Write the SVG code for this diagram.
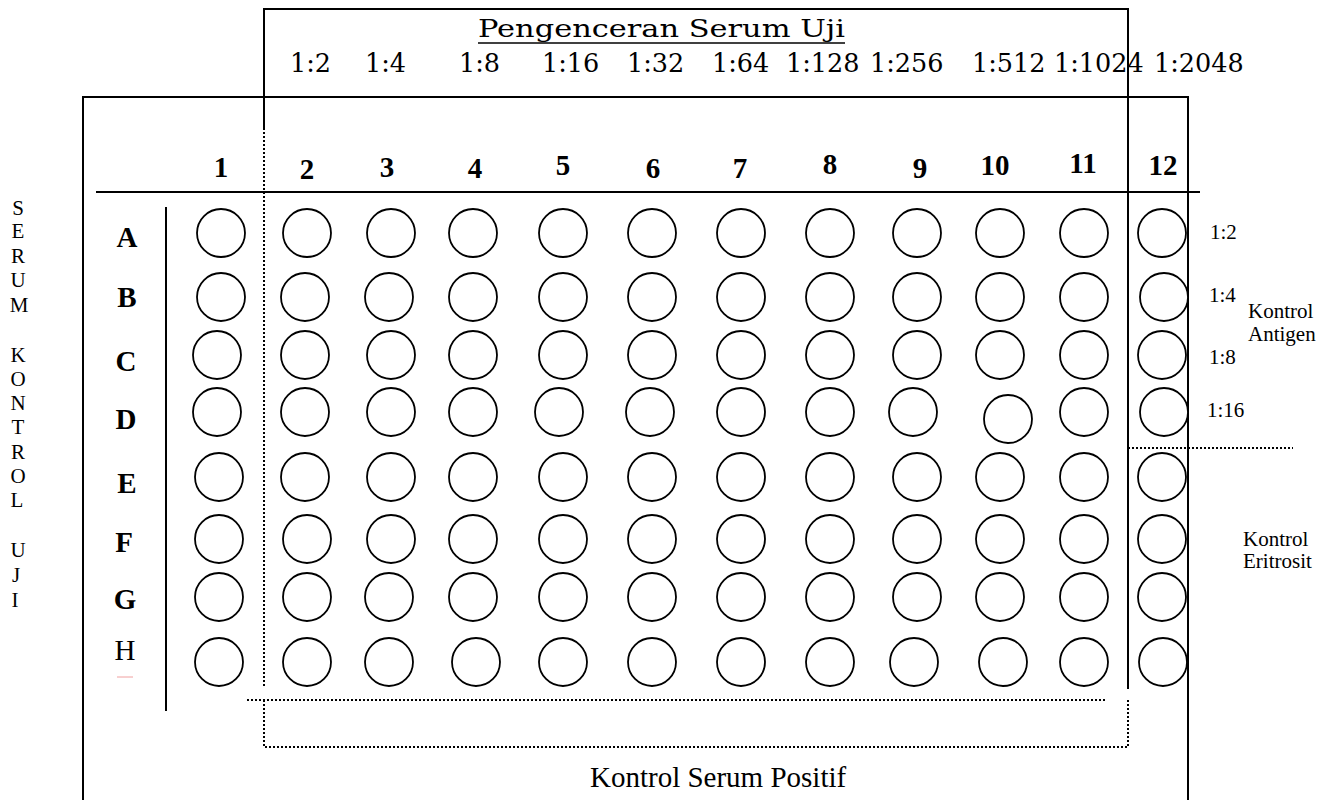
<svg xmlns="http://www.w3.org/2000/svg" width="1333" height="800" viewBox="0 0 1333 800">
<style>
.ln{stroke:#000;stroke-width:2;fill:none}
.dt{stroke:#000;stroke-width:2;fill:none;stroke-dasharray:2 2}
.well{stroke:#000;stroke-width:1.8;fill:#fff}
.hd{font-family:"DejaVu Serif",serif;font-size:25.5px;fill:#000}
.ttl{font-family:"DejaVu Serif",serif;font-size:25px;fill:#000}
.num{font-family:"Liberation Serif","Times New Roman",serif;font-size:29px;font-weight:bold;fill:#000;text-anchor:middle}
.row{font-family:"Liberation Serif","Times New Roman",serif;font-size:29px;font-weight:bold;fill:#000;text-anchor:middle}
.rowr{font-family:"Liberation Serif","Times New Roman",serif;font-size:29px;font-weight:normal;fill:#000;text-anchor:middle}
.side{font-family:"Liberation Serif","Times New Roman",serif;font-size:21px;fill:#000;text-anchor:middle}
.lbl{font-family:"Liberation Serif","Times New Roman",serif;font-size:21px;fill:#000}
.big{font-family:"Liberation Serif","Times New Roman",serif;font-size:29px;fill:#000}
</style>
<rect width="1333" height="800" fill="#fff"/>

<g id="frame">
  <path class="ln" d="M264 128 V9 H1128 V689"/>
  <path class="ln" d="M83 800 V97 H1188 V800"/>
  <line class="ln" x1="96" y1="192" x2="1200" y2="192"/>
  <line class="ln" x1="166" y1="207" x2="166" y2="711"/>
  <line class="dt" x1="264" y1="128" x2="264" y2="688"/>
  <line class="dt" x1="247" y1="700" x2="1107" y2="700"/>
  <path class="dt" d="M264 700 V747 H1128 V700"/>
  <line class="dt" x1="1128" y1="448" x2="1293" y2="448"/>
  <line x1="117" y1="677" x2="133" y2="677" stroke="#f0a0a0" stroke-width="1"/>
</g>

<g id="title">
  <text class="ttl" x="478" y="37" textLength="367" lengthAdjust="spacingAndGlyphs">Pengenceran Serum Uji</text>
  <line x1="478" y1="43" x2="845" y2="43" stroke="#000" stroke-width="1.5"/>
</g>

<g id="dilutions">
  <text class="hd" x="290" y="72">1:2</text>
  <text class="hd" x="365" y="72">1:4</text>
  <text class="hd" x="459" y="72">1:8</text>
  <text class="hd" x="542" y="72">1:16</text>
  <text class="hd" x="627" y="72">1:32</text>
  <text class="hd" x="712" y="72">1:64</text>
  <text class="hd" x="786" y="72">1:128</text>
  <text class="hd" x="870" y="72">1:256</text>
  <text class="hd" x="972" y="72">1:512</text>
  <text class="hd" x="1054" y="72">1:1024</text>
  <text class="hd" x="1154" y="72">1:2048</text>
</g>

<g id="columns">
  <text class="num" x="221" y="177">1</text>
  <text class="num" x="307" y="179">2</text>
  <text class="num" x="387" y="177">3</text>
  <text class="num" x="475" y="178">4</text>
  <text class="num" x="563" y="175">5</text>
  <text class="num" x="653" y="178">6</text>
  <text class="num" x="740" y="178">7</text>
  <text class="num" x="830" y="174">8</text>
  <text class="num" x="920" y="178">9</text>
  <text class="num" x="995" y="175">10</text>
  <text class="num" x="1083" y="173">11</text>
  <text class="num" x="1163" y="175">12</text>
</g>

<g id="rows">
  <text class="row" x="127" y="247">A</text>
  <text class="row" x="127" y="307">B</text>
  <text class="row" x="126" y="371">C</text>
  <text class="row" x="126" y="429">D</text>
  <text class="row" x="127" y="493">E</text>
  <text class="row" x="124" y="552">F</text>
  <text class="row" x="125" y="609">G</text>
  <text class="rowr" x="125" y="660">H</text>
</g>

<g id="side-label">
  <text class="side" x="18" y="215">S</text>
  <text class="side" x="18" y="238">E</text>
  <text class="side" x="18" y="263">R</text>
  <text class="side" x="18" y="287">U</text>
  <text class="side" x="19" y="312">M</text>
  <text class="side" x="18" y="362">K</text>
  <text class="side" x="18" y="386">O</text>
  <text class="side" x="18" y="410">N</text>
  <text class="side" x="18" y="434">T</text>
  <text class="side" x="18" y="459">R</text>
  <text class="side" x="18" y="483">O</text>
  <text class="side" x="17" y="507">L</text>
  <text class="side" x="18" y="557">U</text>
  <text class="side" x="16" y="582">J</text>
  <text class="side" x="15" y="607">I</text>
</g>

<g id="right-labels">
  <text class="lbl" x="1210" y="239">1:2</text>
  <text class="lbl" x="1209" y="302">1:4</text>
  <text class="lbl" x="1209" y="364">1:8</text>
  <text class="lbl" x="1207" y="417">1:16</text>
  <text class="lbl" x="1248" y="318">Kontrol</text>
  <text class="lbl" x="1248" y="341">Antigen</text>
  <text class="lbl" x="1243" y="546">Kontrol</text>
  <text class="lbl" x="1243" y="568">Eritrosit</text>
</g>

<g id="bottom-label">
  <text class="big" x="590" y="787">Kontrol Serum Positif</text>
</g>

<g id="wells">
  <g id="row-A">
    <circle class="well" cx="221" cy="233" r="24"/><circle class="well" cx="307" cy="233" r="24"/><circle class="well" cx="391" cy="233" r="24"/><circle class="well" cx="473" cy="233" r="24"/><circle class="well" cx="563" cy="233" r="24"/><circle class="well" cx="652" cy="233" r="24"/><circle class="well" cx="741" cy="233" r="24"/><circle class="well" cx="830" cy="233" r="24"/><circle class="well" cx="917" cy="233" r="24"/><circle class="well" cx="1000" cy="233" r="24"/><circle class="well" cx="1084" cy="233" r="24"/><circle class="well" cx="1162" cy="233" r="24"/>
  </g>
  <g id="row-B">
    <circle class="well" cx="221" cy="297" r="24"/><circle class="well" cx="305" cy="297" r="24"/><circle class="well" cx="389" cy="297" r="24"/><circle class="well" cx="473" cy="297" r="24"/><circle class="well" cx="563" cy="297" r="24"/><circle class="well" cx="652" cy="297" r="24"/><circle class="well" cx="741" cy="297" r="24"/><circle class="well" cx="830" cy="297" r="24"/><circle class="well" cx="917" cy="297" r="24"/><circle class="well" cx="1000" cy="297" r="24"/><circle class="well" cx="1084" cy="297" r="24"/><circle class="well" cx="1164" cy="297" r="24"/>
  </g>
  <g id="row-C">
    <circle class="well" cx="217" cy="355" r="24"/><circle class="well" cx="305" cy="355" r="24"/><circle class="well" cx="391" cy="355" r="24"/><circle class="well" cx="473" cy="355" r="24"/><circle class="well" cx="563" cy="355" r="24"/><circle class="well" cx="652" cy="355" r="24"/><circle class="well" cx="741" cy="355" r="24"/><circle class="well" cx="830" cy="355" r="24"/><circle class="well" cx="917" cy="355" r="24"/><circle class="well" cx="1000" cy="355" r="24"/><circle class="well" cx="1084" cy="355" r="24"/><circle class="well" cx="1162" cy="355" r="24"/>
  </g>
  <g id="row-D">
    <circle class="well" cx="217" cy="412" r="24"/><circle class="well" cx="305" cy="412" r="24"/><circle class="well" cx="391" cy="412" r="24"/><circle class="well" cx="473" cy="412" r="24"/><circle class="well" cx="559" cy="412" r="24"/><circle class="well" cx="650" cy="412" r="24"/><circle class="well" cx="741" cy="412" r="24"/><circle class="well" cx="830" cy="412" r="24"/><circle class="well" cx="913" cy="412" r="24"/><circle class="well" cx="1008" cy="419" r="24"/><circle class="well" cx="1084" cy="412" r="24"/><circle class="well" cx="1164" cy="412" r="24"/>
  </g>
  <g id="row-E">
    <circle class="well" cx="219" cy="477" r="24"/><circle class="well" cx="305" cy="477" r="24"/><circle class="well" cx="391" cy="477" r="24"/><circle class="well" cx="473" cy="477" r="24"/><circle class="well" cx="563" cy="477" r="24"/><circle class="well" cx="652" cy="477" r="24"/><circle class="well" cx="741" cy="477" r="24"/><circle class="well" cx="830" cy="477" r="24"/><circle class="well" cx="917" cy="477" r="24"/><circle class="well" cx="1000" cy="477" r="24"/><circle class="well" cx="1084" cy="477" r="24"/><circle class="well" cx="1162" cy="477" r="24"/>
  </g>
  <g id="row-F">
    <circle class="well" cx="219" cy="539" r="24"/><circle class="well" cx="307" cy="539" r="24"/><circle class="well" cx="391" cy="539" r="24"/><circle class="well" cx="473" cy="539" r="24"/><circle class="well" cx="563" cy="539" r="24"/><circle class="well" cx="652" cy="539" r="24"/><circle class="well" cx="741" cy="539" r="24"/><circle class="well" cx="830" cy="539" r="24"/><circle class="well" cx="917" cy="539" r="24"/><circle class="well" cx="1000" cy="539" r="24"/><circle class="well" cx="1084" cy="539" r="24"/><circle class="well" cx="1162" cy="539" r="24"/>
  </g>
  <g id="row-G">
    <circle class="well" cx="219" cy="597" r="24"/><circle class="well" cx="307" cy="597" r="24"/><circle class="well" cx="389" cy="597" r="24"/><circle class="well" cx="473" cy="597" r="24"/><circle class="well" cx="563" cy="597" r="24"/><circle class="well" cx="652" cy="597" r="24"/><circle class="well" cx="741" cy="597" r="24"/><circle class="well" cx="830" cy="597" r="24"/><circle class="well" cx="917" cy="597" r="24"/><circle class="well" cx="1000" cy="597" r="24"/><circle class="well" cx="1084" cy="597" r="24"/><circle class="well" cx="1162" cy="597" r="24"/>
  </g>
  <g id="row-H">
    <circle class="well" cx="219" cy="662" r="24"/><circle class="well" cx="307" cy="662" r="24"/><circle class="well" cx="389" cy="662" r="24"/><circle class="well" cx="476" cy="662" r="24"/><circle class="well" cx="563" cy="662" r="24"/><circle class="well" cx="652" cy="662" r="24"/><circle class="well" cx="741" cy="662" r="24"/><circle class="well" cx="830" cy="662" r="24"/><circle class="well" cx="914" cy="662" r="24"/><circle class="well" cx="1003" cy="662" r="24"/><circle class="well" cx="1084" cy="662" r="24"/><circle class="well" cx="1163" cy="662" r="24"/>
  </g>
</g>
</svg>
